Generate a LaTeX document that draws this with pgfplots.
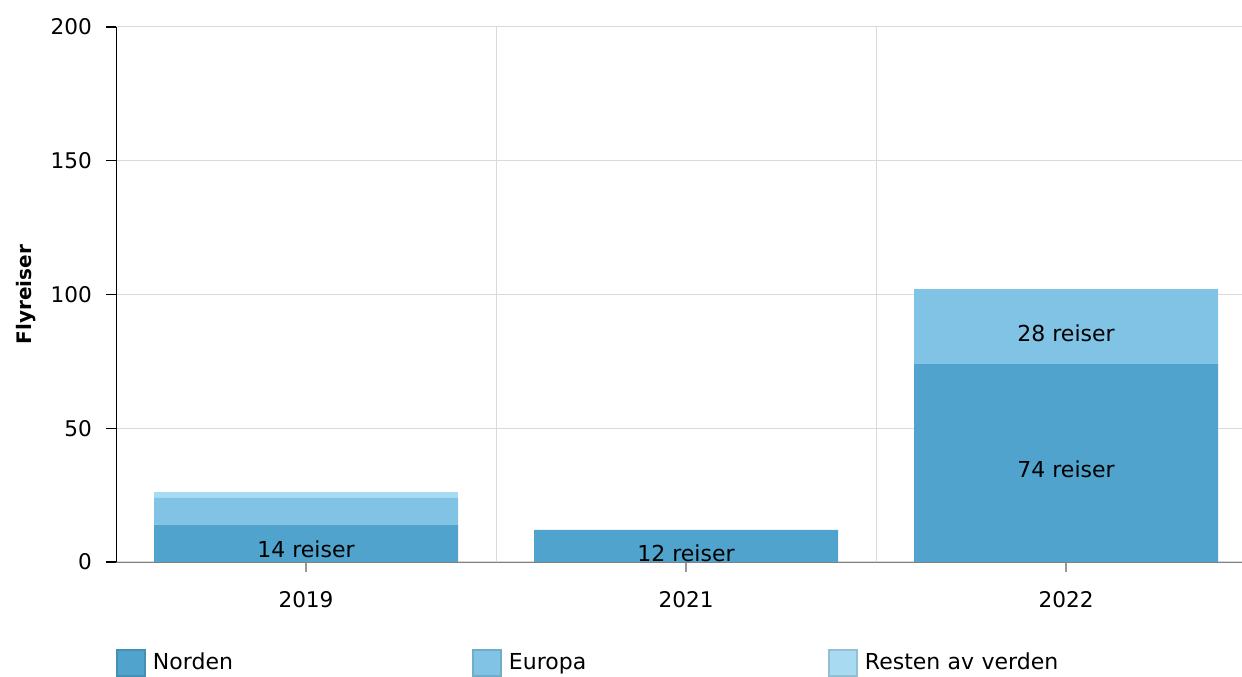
\documentclass[border=0pt]{standalone}
\usepackage{pgfplots}
\pgfplotsset{compat=1.18}
\usepackage{fontspec}
\setmainfont{DejaVu Sans}
\definecolor{norden}{RGB}{79,163,204}
\definecolor{europa}{RGB}{128,195,228}
\definecolor{resten}{RGB}{168,218,242}
\definecolor{gridc}{RGB}{218,218,218}
\begin{document}
\begin{tikzpicture}
\begin{axis}[
 name=ax,
 scale only axis, width=563pt, height=267.5pt,
 ybar stacked, bar width=152pt,
 xmin=-0.5, xmax=2.463, ymin=0, ymax=200,
 xtick={0,1,2}, xticklabels={2019,2021,2022},
 ytick={0,50,100,150,200},
 minor xtick={0.5,1.5},
 ymajorgrids, xminorgrids,
 major grid style={gridc, line width=0.5pt},
 minor grid style={gridc, line width=0.5pt},
 axis lines=left,
 axis line style={-},
 x axis line style={draw=black!50},
 y axis line style={draw=black},
 tick align=outside,
 major tick length=5pt, minor tick length=0pt,
 xtick style={black!40, line width=0.6pt},
 ytick style={black, line width=0.6pt},
 /pgf/number format/assume math mode=true,
 ticklabel style={font=\fontsize{10.8}{12}\selectfont},
 yticklabel style={xshift=-3.5pt},
 xticklabel style={yshift=-6pt},
 ylabel={\textbf{Flyreiser}},
 ylabel style={at={(axis description cs:-0.08,0.5)}, anchor=center, font=\fontsize{10}{12}\selectfont},
 legend style={draw=none, at={(0,-0.1888)}, anchor=west, legend columns=3,
   inner sep=0pt, outer sep=0pt,
   nodes={inner sep=0pt, text width=159.5pt, align=left, font=\fontsize{11}{13}\selectfont}},
 legend image code/.code={
   \fill[#1] (0pt,-7pt) rectangle (15pt,7pt);
   \draw[draw=black, draw opacity=0.12, fill=none, line width=0.8pt] (0.4pt,-6.6pt) rectangle (14.6pt,6.6pt);
   \path (18.5pt,0pt);
 },
 after end axis/.append code={
   \node[font=\fontsize{11}{13}\selectfont] at (axis cs:0,4.9) {14 reiser};
   \node[font=\fontsize{11}{13}\selectfont] at (axis cs:1,3.4) {12 reiser};
   \node[font=\fontsize{11}{13}\selectfont] at (axis cs:2,34.8) {74 reiser};
   \node[font=\fontsize{11}{13}\selectfont] at (axis cs:2,85.6) {28 reiser};
 },
]
\addplot[fill=norden, draw=none] coordinates {(0,14) (1,12) (2,74)};
\addplot[fill=europa, draw=none] coordinates {(0,10) (1,0) (2,28)};
\addplot[fill=resten, draw=none] coordinates {(0,2) (1,0) (2,0)};
\legend{Norden, Europa, Resten av verden}
\end{axis}
\pgfresetboundingbox
\path[use as bounding box] ([xshift=-58pt,yshift=-57.5pt]ax.south west) rectangle ([yshift=13.5pt]ax.north east);
\end{tikzpicture}
\end{document}
